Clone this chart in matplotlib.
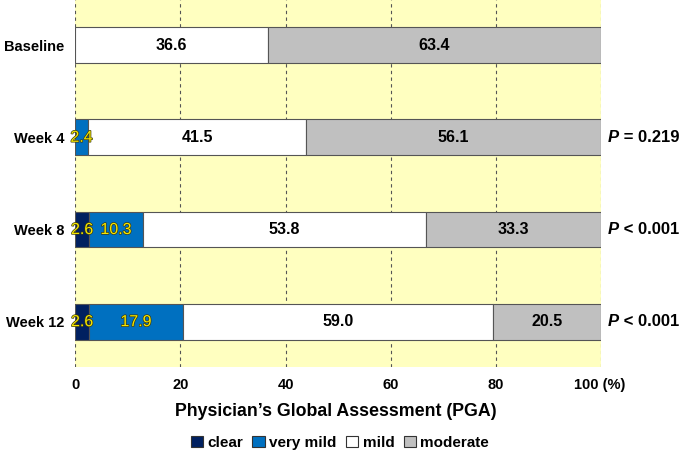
import numpy as np
import matplotlib.pyplot as plt
import matplotlib.patheffects as pe
from matplotlib.patches import Patch

plt.rcParams['font.family'] = ['Liberation Sans', 'DejaVu Sans']

# Dữ liệu
groups = ["Baseline", "Week 4", "Week 8", "Week 12"]
categories = ["clear", "very mild", "mild", "moderate"]
clear = [0.0, 0.0, 2.6, 2.6]
very_mild = [0.0, 2.4, 10.3, 17.9]
mild = [36.6, 41.5, 53.8, 59.0]
moderate = [63.4, 56.1, 33.3, 20.5]
p_values = ["", "= 0.219", "< 0.001", "< 0.001"]
x_ticks = [0, 20, 40, 60, 80, 100]

colors = ["#002060", "#0070C0", "#FFFFFF", "#C0C0C0"]
label_colors = ["#F5E600", "#F5E600", "black", "black"]

fig = plt.figure(figsize=(6.84, 4.54), dpi=100)
ax = fig.add_axes([0.110, 0.192, 0.769, 0.808])
ax.set_facecolor("#FFFFC0")

y = np.arange(len(groups))
left = np.zeros(len(groups))
for vals, col, lc in zip([clear, very_mild, mild, moderate], colors, label_colors):
    vals = np.array(vals)
    ax.barh(y, vals, left=left, height=0.39, color=col, edgecolor="#555555",
            linewidth=0.8, zorder=3)
    for i, v in enumerate(vals):
        if v > 0:
            t = ax.text(left[i] + v / 2, y[i], f"{v:.1f}", ha="center", va="center",
                        fontsize=11.5, color=lc,
                        fontweight="bold" if lc == "black" else "normal", zorder=4)
            if lc != "black":
                # chữ vàng có viền tối mảnh
                t.set_path_effects([pe.withStroke(linewidth=1.0, foreground="#3a3a10")])
    left += vals

ax.set_xlim(0, 100)
ax.set_ylim(3.49, -0.49)
ax.set_yticks(y)
ax.set_yticklabels(groups, fontsize=10.5, fontweight="bold")
ax.set_xticks(x_ticks)
ax.set_xticklabels([str(t) for t in x_ticks[:-1]] + [""], fontsize=10.5, fontweight="bold")
ax.tick_params(length=0, pad=8)
# nhãn "100 (%)" lệch trái một chút như ảnh gốc
ax.annotate(f"{x_ticks[-1]} (%)", xy=(94.8, 0), xycoords=("data", "axes fraction"),
            xytext=(0, -8), textcoords="offset points", ha="left", va="top",
            fontsize=10.5, fontweight="bold")
for s in ax.spines.values():
    s.set_visible(False)
for xv in x_ticks:
    ax.axvline(xv, color="#555555", linestyle=(0, (3, 3)), linewidth=0.8, zorder=1)

# giá trị P bên phải
for i, p in enumerate(p_values):
    if p:
        ax.text(101.2, y[i], "P", ha="left", va="center",
                fontsize=12, fontweight="bold", fontstyle="italic")
        ax.text(103.3, y[i], " " + p, ha="left", va="center", fontsize=12, fontweight="bold")

fig.text(0.491, 0.093, "Physician\u2019s Global Assessment (PGA)", ha="center", va="center",
         fontsize=12.8, fontweight="bold")

handles = [Patch(facecolor=c, edgecolor="#333333", linewidth=0.8) for c in colors]
fig.legend(handles, categories, loc="center", bbox_to_anchor=(0.497, 0.025), ncol=4,
           frameon=False, handlelength=0.8, handleheight=0.8,
           handletextpad=0.3, columnspacing=0.6, prop={"weight": "bold", "size": 11})

fig.savefig("out.png", dpi=100)
